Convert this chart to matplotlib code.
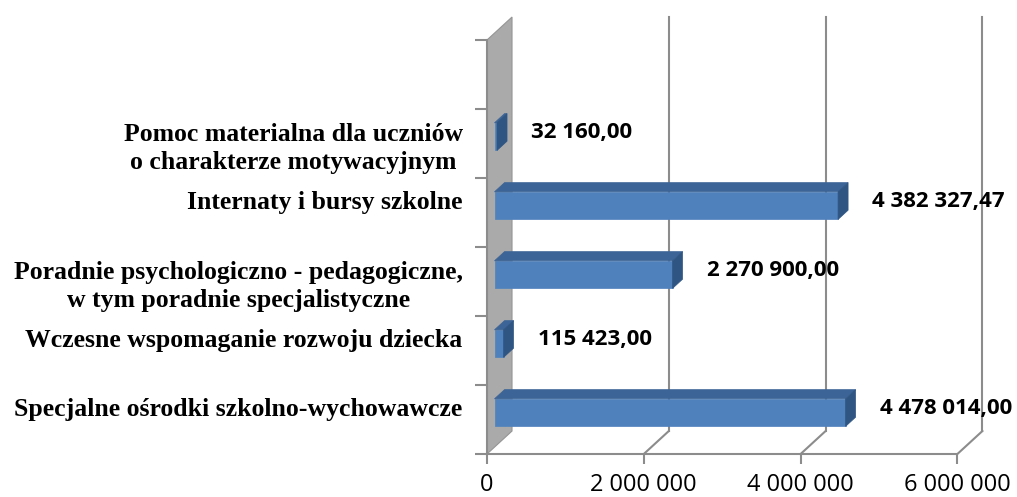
import matplotlib.pyplot as plt
import matplotlib.patches as mpatches
import numpy as np

# Data (bottom to top); the top slot is empty in the original chart
categories = [
    "Specjalne ośrodki szkolno-wychowawcze",
    "Wczesne wspomaganie rozwoju dziecka",
    "Poradnie psychologiczno - pedagogiczne,\nw tym poradnie specjalistyczne",
    "Internaty i bursy szkolne",
    "Pomoc materialna dla uczniów\no charakterze motywacyjnym",
    "",
]
values = [4478014.00, 115423.00, 2270900.00, 4382327.47, 32160.00]
x_ticks = [0, 2000000, 4000000, 6000000]

# 3D look: depth offset of the back wall in data units
DX = 0.319e6
DY = 0.333
D0, D1 = 0.3, 0.7      # bar depth range (fraction of full depth)
HALF = 0.2             # half bar height (category units)

colors = {
    'front': '#4F81BD',
    'top': '#3C6496',
    'side': '#2F5583',
    'grid': '#8C8C8C',
    'wall': '#AAAAAA',
}


def fmt_space(v, decimals=0):
    s = f"{v:,.{decimals}f}"
    return s.replace(",", " ").replace(".", ",")


fig = plt.figure(figsize=(10.17, 4.97), dpi=100)
ax = fig.add_axes([487 / 1017, 43 / 497, 470.4 / 1017, 414 / 497])
ax.set_xlim(0, 6e6)
ax.set_ylim(-0.5, len(categories) - 0.5)
ax.patch.set_visible(False)

ytop = len(categories) - 0.5

# gray side wall
wall = mpatches.Polygon([(0, -0.5), (0, ytop), (DX, ytop + DY), (DX, -0.5 + DY)],
                        closed=True, facecolor=colors['wall'], edgecolor='#959595',
                        linewidth=0.8, zorder=1, clip_on=False)
ax.add_patch(wall)

# back wall gridlines + floor diagonals
for xt in x_ticks[1:]:
    ax.plot([xt + DX, xt + DX], [-0.5 + DY, ytop + DY], color=colors['grid'],
            lw=1.5, zorder=1, clip_on=False)
    ax.plot([xt, xt + DX], [-0.5, -0.5 + DY], color=colors['grid'],
            lw=1.5, zorder=1, clip_on=False)

# bars
for i, v in enumerate(values):
    x0, y0 = D0 * DX, i - HALF + D0 * DY
    x1, y1 = D1 * DX, i - HALF + D1 * DY
    h = 2 * HALF
    front = mpatches.Rectangle((x0, y0), v, h, facecolor=colors['front'],
                               edgecolor=colors['front'], lw=0.5, zorder=3)
    top = mpatches.Polygon([(x0, y0 + h), (x0 + v, y0 + h), (x1 + v, y1 + h), (x1, y1 + h)],
                           closed=True, facecolor=colors['top'], edgecolor=colors['top'],
                           lw=0.5, zorder=3)
    side = mpatches.Polygon([(x0 + v, y0), (x0 + v, y0 + h), (x1 + v, y1 + h), (x1 + v, y1)],
                            closed=True, facecolor=colors['side'], edgecolor=colors['side'],
                            lw=0.5, zorder=3)
    for p in (front, top, side):
        p.set_clip_on(False)
        ax.add_patch(p)
    ax.text(x1 + v + 0.306e6, i + 0.16, fmt_space(v, 2), ha='left', va='center',
            fontsize=16, fontweight='bold', family='Open Sans', zorder=4, clip_on=False)

# category labels
for i, name in enumerate(categories):
    if not name:
        continue
    nlines = name.count("\n") + 1
    ax.text(-0.31e6, i + 0.14 - 0.21 * (nlines - 1), name, ha='right', va='center',
            multialignment='center', linespacing=1.3, fontsize=18.5,
            fontweight='bold', family='Liberation Serif', clip_on=False)

# axes styling
for s in ('top', 'right'):
    ax.spines[s].set_visible(False)
for s in ('left', 'bottom'):
    ax.spines[s].set_color(colors['grid'])
    ax.spines[s].set_linewidth(1.5)

ax.set_xticks(x_ticks)
ax.set_xticklabels([fmt_space(t) for t in x_ticks], family='Open Sans', fontsize=17)
ax.tick_params(axis='x', length=7, width=1.5, color=colors['grid'], pad=7)
ax.set_yticks(np.arange(-0.5, len(categories), 1))
ax.set_yticklabels([])
ax.tick_params(axis='y', length=9, width=1.5, color=colors['grid'])

plt.savefig('out.png', dpi=100)
